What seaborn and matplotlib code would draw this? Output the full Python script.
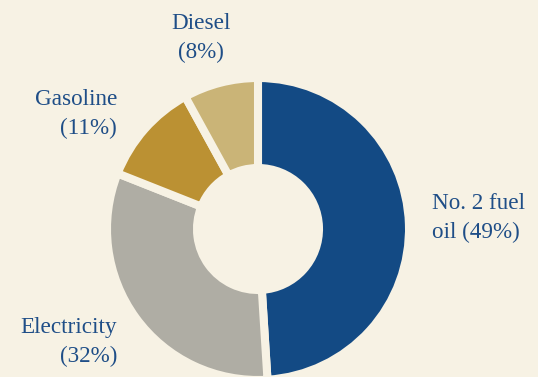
import matplotlib
matplotlib.use("Agg")
import matplotlib.pyplot as plt
import seaborn as sns

categories = ["No. 2 fuel oil", "Electricity", "Gasoline", "Diesel"]
shares = [49, 32, 11, 8]
labels = ["No. 2 fuel\noil (49%)", "Electricity\n(32%)", "Gasoline\n(11%)", "Diesel\n(8%)"]
colors = ["#134a84", "#afada4", "#bb9133", "#cab477"]

bg = "#f7f2e4"
txt = "#1f4e87"

sns.set_theme(style="white")
plt.rcParams["font.family"] = ["Liberation Serif", "DejaVu Serif"]

fig = plt.figure(figsize=(5.38, 3.77), dpi=100)
fig.patch.set_facecolor(bg)
ax = fig.add_axes([0, 0, 1, 1])
ax.set_facecolor(bg)

R = 151
ax.pie(shares, colors=colors, startangle=90, counterclock=False,
       center=(258, 148), radius=R, frame=True,
       wedgeprops=dict(width=90, edgecolor=bg, linewidth=5.8))
ax.set_xlim(0, 538)
ax.set_ylim(0, 377)
ax.set_aspect("equal")
ax.axis("off")

pos = [(432, 159, "left"), (117, 35, "right"), (117, 263, "right"), (201, 339, "center")]
for lab, (x, y, ha) in zip(labels, pos):
    ax.text(x, y, lab, ha=ha, va="center", fontsize=16.7, color=txt,
            linespacing=1.5, multialignment=ha)

fig.savefig("out.png", dpi=100, facecolor=bg)
